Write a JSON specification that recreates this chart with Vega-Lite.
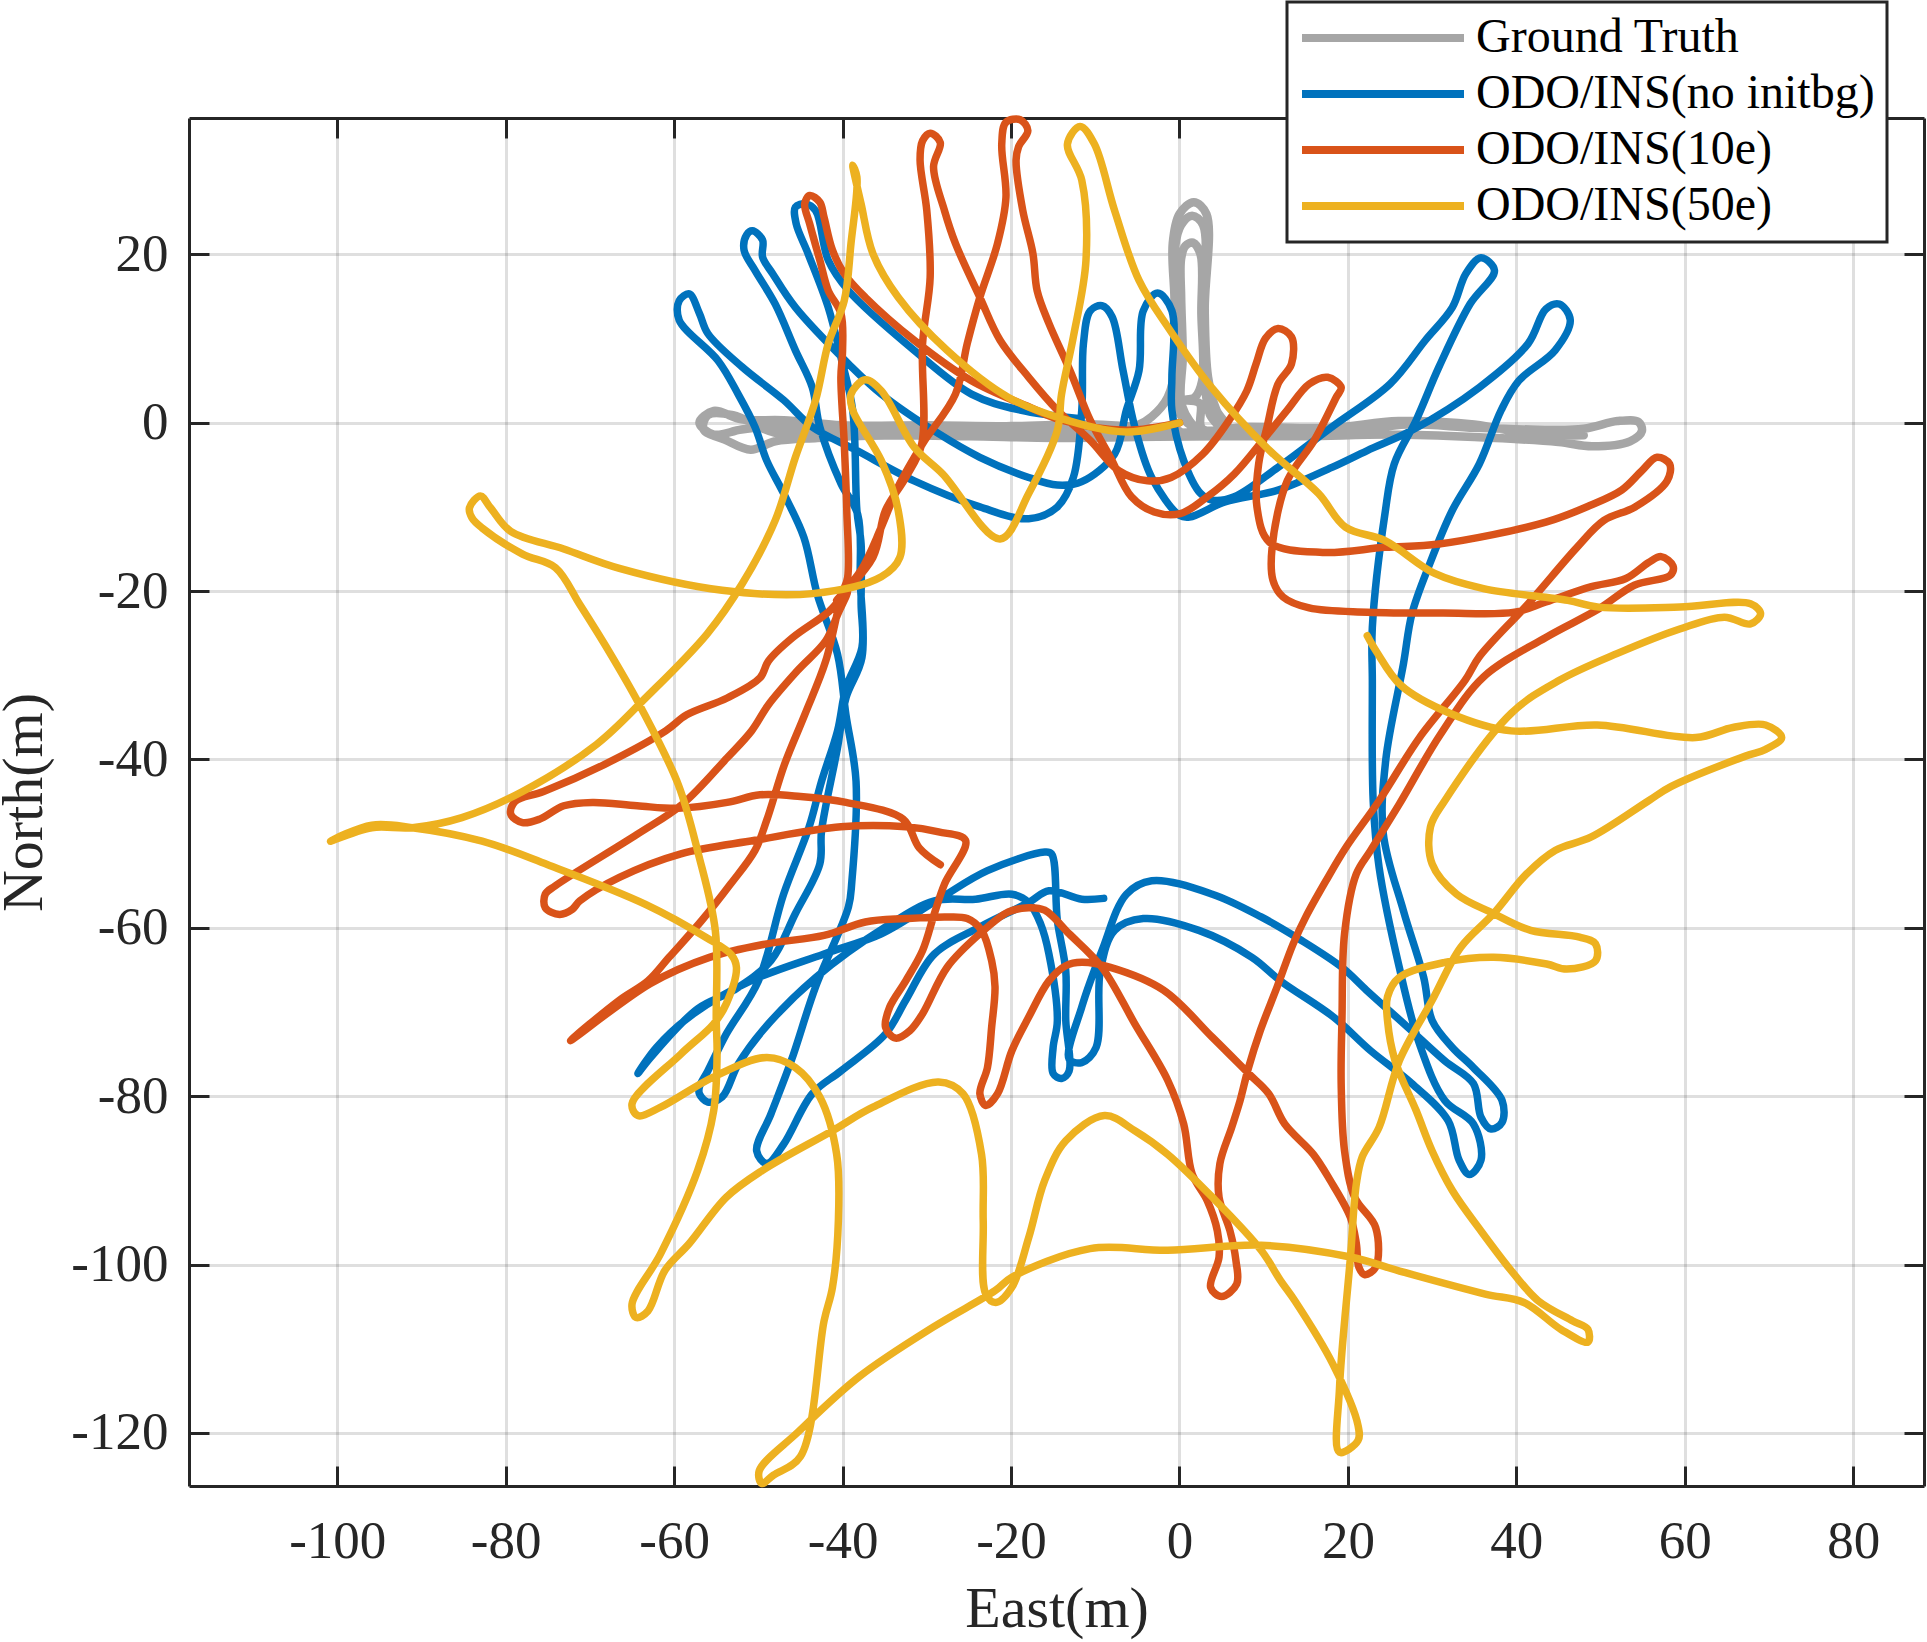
{
"$schema":"https://vega.github.io/schema/vega-lite/v6.json",
"autosize":"none",
"padding":{"left":189,"top":118,"right":2,"bottom":156},
"width":1735,
"height":1368,
"background":"white",
"datasets":{
"truth":[
{"x":0,"y":-1},{"x":-10,"y":-0.2},{"x":-20,"y":-0.4},{"x":-30,"y":-0.3},{"x":-40,"y":-0.3},{"x":-47,"y":0.3},{"x":-52,"y":0.4},{"x":-55.3,"y":1.4},{"x":-57,"y":0},{"x":-55.3,"y":-1.4},{"x":-52,"y":-0.8},{"x":-48,"y":-0.5},{"x":-40,"y":-0.9},{"x":-30,"y":-1},{"x":-20,"y":-0.9},{"x":-10,"y":-1.2},{"x":0,"y":-1.2},{"x":10,"y":-0.9},{"x":20,"y":-1},{"x":27,"y":-0.2},{"x":35,"y":-0.6},{"x":42,"y":-0.8},{"x":48,"y":-0.7},{"x":52,"y":0.2},{"x":54.5,"y":0.1},{"x":54.9,"y":-1},{"x":53.5,"y":-2.2},{"x":49,"y":-2.8},{"x":45,"y":-2.3},{"x":35,"y":-1.7},{"x":25,"y":-1.4},{"x":15,"y":-1.6},{"x":5,"y":-1.6},{"x":-5,"y":-1.7},{"x":-15,"y":-1.8},{"x":-25,"y":-1.6},{"x":-35,"y":-1.5},{"x":-43,"y":-1.8},{"x":-48,"y":-2.2},{"x":-50.9,"y":-3.2},{"x":-54,"y":-2},{"x":-56.5,"y":-0.8},{"x":-56,"y":0.9},{"x":-53,"y":0.9},{"x":-48,"y":-1.2},{"x":-40,"y":-1.4},{"x":-30,"y":-1.5},{"x":-20,"y":-1.3},{"x":-10,"y":-0.8},{"x":-5,"y":-0.3},{"x":-3.3,"y":0.7},{"x":-1.4,"y":3},{"x":-0.4,"y":7.4},{"x":-0.6,"y":15},{"x":-0.8,"y":21.3},{"x":0,"y":24.8},{"x":1.7,"y":26.2},{"x":3.2,"y":24.8},{"x":3,"y":13.3},{"x":3.4,"y":5.4},{"x":4.4,"y":1.5},{"x":5.9,"y":-0.9},{"x":2.5,"y":-1},{"x":-0.2,"y":1.5},{"x":-0.2,"y":8},{"x":-0.4,"y":15},{"x":-0.5,"y":21},{"x":0.2,"y":23.5},{"x":1.5,"y":24.6},{"x":2.8,"y":23.5},{"x":2.8,"y":13},{"x":3,"y":5},{"x":3.6,"y":1},{"x":5,"y":-1},{"x":2.5,"y":-1},{"x":0.3,"y":2},{"x":0.4,"y":8},{"x":0.2,"y":15},{"x":0.2,"y":19.5},{"x":0.7,"y":21},{"x":1.6,"y":21.4},{"x":2.5,"y":20},{"x":2.6,"y":13},{"x":2.7,"y":5},{"x":1.8,"y":3},{"x":0.5,"y":2.7},{"x":2.4,"y":2.3},{"x":2.7,"y":-0.7},{"x":8,"y":-0.5},{"x":18,"y":-0.6},{"x":26,"y":0.2},{"x":35,"y":-0.2},{"x":42,"y":-1.4},{"x":48,"y":-1.5}
],
"noinit":[
{"x":-12,"y":0.5},{"x":-18.9,"y":1.5},{"x":-24.7,"y":3.4},{"x":-31.5,"y":8.6},{"x":-39.3,"y":15.7},{"x":-41.7,"y":19.3},{"x":-43.2,"y":25.2},{"x":-44.4,"y":26},{"x":-45.6,"y":25.6},{"x":-45.5,"y":23.6},{"x":-44.1,"y":20.1},{"x":-41.7,"y":13.7},{"x":-40.2,"y":7.8},{"x":-38.8,"y":1.5},{"x":-38.3,"y":-10.4},{"x":-37.8,"y":-14.4},{"x":-37.8,"y":-21.5},{"x":-37.7,"y":-26.7},{"x":-39.6,"y":-31.5},{"x":-40.6,"y":-36.6},{"x":-42.5,"y":-42.6},{"x":-44,"y":-48.1},{"x":-47,"y":-56},{"x":-50,"y":-66.3},{"x":-53.8,"y":-72.6},{"x":-56,"y":-77},{"x":-57,"y":-78.9},{"x":-57,"y":-79.7},{"x":-56,"y":-80.7},{"x":-54.3,"y":-80.1},{"x":-52.4,"y":-76.2},{"x":-49.5,"y":-72.2},{"x":-43.2,"y":-65.9},{"x":-34.9,"y":-59.9},{"x":-29.1,"y":-56.8},{"x":-24.2,"y":-56.6},{"x":-19.9,"y":-56},{"x":-17.9,"y":-57},{"x":-16.5,"y":-59.5},{"x":-15.5,"y":-63.1},{"x":-14.5,"y":-71},{"x":-15,"y":-74.2},{"x":-15,"y":-77.3},{"x":-14,"y":-77.9},{"x":-13.1,"y":-77},{"x":-13.5,"y":-71},{"x":-13.5,"y":-65.1},{"x":-14.5,"y":-59.1},{"x":-15.2,"y":-51.2},{"x":-16,"y":-51},{"x":-22.8,"y":-53.2},{"x":-28.6,"y":-56.6},{"x":-35.4,"y":-60.7},{"x":-42.2,"y":-63.1},{"x":-50.9,"y":-66.3},{"x":-57.7,"y":-70.2},{"x":-62.1,"y":-74.2},{"x":-64.3,"y":-77.3},{"x":-62.8,"y":-75.4},{"x":-57.2,"y":-69.6},{"x":-52.9,"y":-67.4},{"x":-48.5,"y":-63.9},{"x":-45.6,"y":-58.3},{"x":-42.7,"y":-52.4},{"x":-42.5,"y":-48.5},{"x":-40.6,"y":-38.6},{"x":-39.6,"y":-32.7},{"x":-37.7,"y":-27.9},{"x":-37.9,"y":-18.8},{"x":-38.2,"y":-10.9},{"x":-40.2,"y":-7.2},{"x":-42.7,"y":-0.5},{"x":-43.6,"y":4.2},{"x":-45.6,"y":8.6},{"x":-48,"y":14.1},{"x":-50.4,"y":18.1},{"x":-51.7,"y":20.5},{"x":-51.4,"y":22.3},{"x":-50.7,"y":22.8},{"x":-49.5,"y":21.7},{"x":-49.5,"y":19.7},{"x":-48.3,"y":17.7},{"x":-45.6,"y":13.7},{"x":-39.3,"y":7},{"x":-35.4,"y":3.4},{"x":-28.6,"y":-1.3},{"x":-23.7,"y":-4.1},{"x":-17.9,"y":-6.5},{"x":-14.5,"y":-7.4},{"x":-11.6,"y":-7},{"x":-7.7,"y":-3.7},{"x":-6.3,"y":1.5},{"x":-4.8,"y":6.2},{"x":-4.3,"y":13.3},{"x":-2.6,"y":15.4},{"x":-0.9,"y":13.3},{"x":-0.9,"y":5.4},{"x":-0.9,"y":1.5},{"x":0.5,"y":-4.5},{"x":2.5,"y":-8.4},{"x":3.9,"y":-9.2},{"x":6.5,"y":-8.8},{"x":11.7,"y":-5.3},{"x":18.1,"y":-0.5},{"x":25,"y":4.6},{"x":29.2,"y":9.8},{"x":32.4,"y":13.7},{"x":34,"y":17.7},{"x":35.8,"y":19.6},{"x":37.4,"y":18.1},{"x":34.5,"y":14.1},{"x":30.8,"y":6.6},{"x":28.1,"y":0.3},{"x":25.5,"y":-4.9},{"x":24.4,"y":-10.8},{"x":22.9,"y":-24.3},{"x":22.9,"y":-30.6},{"x":23,"y":-44.9},{"x":23.7,"y":-52.8},{"x":26.1,"y":-64.7},{"x":28.5,"y":-73.8},{"x":31.5,"y":-80.5},{"x":34.9,"y":-83.3},{"x":35.8,"y":-87.6},{"x":34.4,"y":-89.3},{"x":33.2,"y":-87.6},{"x":31.9,"y":-82.9},{"x":27.6,"y":-78.5},{"x":22.7,"y":-74.6},{"x":18.3,"y":-70.6},{"x":12,"y":-66.3},{"x":8.6,"y":-63.5},{"x":2.3,"y":-60.3},{"x":-4.3,"y":-58.9},{"x":-7.7,"y":-60.3},{"x":-9.4,"y":-65.1},{"x":-9.9,"y":-74.2},{"x":-11.6,"y":-76},{"x":-13.1,"y":-75.6},{"x":-11.6,"y":-69.4},{"x":-9.2,"y":-62.7},{"x":-6.3,"y":-56},{"x":-3.3,"y":-54.4},{"x":3.9,"y":-56},{"x":9.7,"y":-58.7},{"x":14.5,"y":-61.5},{"x":19.3,"y":-64.7},{"x":22.2,"y":-67.4},{"x":27.1,"y":-71.8},{"x":31.5,"y":-75.8},{"x":34.9,"y":-78.5},{"x":35.8,"y":-82.5},{"x":37,"y":-83.9},{"x":38.3,"y":-83.1},{"x":38.3,"y":-80.5},{"x":34.9,"y":-76.6},{"x":32.4,"y":-74.2},{"x":30,"y":-71},{"x":29,"y":-65.9},{"x":26.6,"y":-58},{"x":24.2,"y":-48.8},{"x":24.5,"y":-40},{"x":26.6,"y":-28.6},{"x":27.6,"y":-22.7},{"x":29.7,"y":-16.8},{"x":32.4,"y":-10.4},{"x":35.6,"y":-4.9},{"x":38.2,"y":1.5},{"x":40.3,"y":5},{"x":44.6,"y":8.6},{"x":46.4,"y":12.2},{"x":45.1,"y":14.1},{"x":43.5,"y":13.5},{"x":41.4,"y":9.4},{"x":35.6,"y":4.2},{"x":27.6,"y":-0.9},{"x":22.3,"y":-3.3},{"x":18.1,"y":-5.3},{"x":11.7,"y":-8},{"x":5.4,"y":-9.4},{"x":1.2,"y":-11.2},{"x":0,"y":-11},{"x":-3.3,"y":-6.5},{"x":-5.3,"y":-0.5},{"x":-6.7,"y":6.2},{"x":-8,"y":12.6},{"x":-9.2,"y":13.9},{"x":-10.6,"y":13.3},{"x":-11.4,"y":9.4},{"x":-11.6,"y":1.5},{"x":-12.6,"y":-6.5},{"x":-14.5,"y":-10},{"x":-17.9,"y":-11.4},{"x":-23.7,"y":-10},{"x":-31.5,"y":-6.9},{"x":-38.3,"y":-3.3},{"x":-43.6,"y":-0.5},{"x":-47,"y":2.7},{"x":-51.9,"y":6.6},{"x":-56,"y":10.6},{"x":-57,"y":13},{"x":-58.2,"y":15.3},{"x":-59.4,"y":14.5},{"x":-59.4,"y":12.2},{"x":-54.8,"y":7.4},{"x":-52.4,"y":3.4},{"x":-50.4,"y":-0.5},{"x":-49,"y":-4.5},{"x":-47,"y":-8.4},{"x":-44.6,"y":-13.6},{"x":-43,"y":-20.4},{"x":-40.6,"y":-27.5},{"x":-39.6,"y":-34.7},{"x":-38.4,"y":-42.6},{"x":-38.9,"y":-54.5},{"x":-39.3,"y":-57.5},{"x":-43.2,"y":-67},{"x":-46.1,"y":-75.8},{"x":-48.5,"y":-82.1},{"x":-50.2,"y":-86.5},{"x":-49,"y":-88},{"x":-47,"y":-85.7},{"x":-43.6,"y":-79.7},{"x":-40.2,"y":-77},{"x":-34.9,"y":-72.6},{"x":-32.5,"y":-68.6},{"x":-29.1,"y":-63.1},{"x":-23.7,"y":-59.9},{"x":-17.9,"y":-57},{"x":-15.5,"y":-55.6},{"x":-11.6,"y":-56.6},{"x":-9,"y":-56.5}
],
"e10":[
{"x":0,"y":0},{"x":-6.3,"y":-0.9},{"x":-14,"y":0.3},{"x":-17.9,"y":1.9},{"x":-24.7,"y":5},{"x":-31.5,"y":9.8},{"x":-37.3,"y":14.9},{"x":-39.8,"y":17.7},{"x":-41.2,"y":20.5},{"x":-42.2,"y":24.4},{"x":-42.7,"y":26.2},{"x":-43.9,"y":27},{"x":-44.5,"y":26},{"x":-43.9,"y":23.6},{"x":-42.7,"y":19.3},{"x":-41.7,"y":15.7},{"x":-40.2,"y":13},{"x":-40,"y":8.6},{"x":-40.2,"y":5.4},{"x":-39.8,"y":-2.5},{"x":-39.5,"y":-10.4},{"x":-39.4,"y":-18.4},{"x":-40.1,"y":-20.4},{"x":-42,"y":-28.3},{"x":-44.5,"y":-34.7},{"x":-46.9,"y":-40.6},{"x":-49,"y":-47.2},{"x":-50.4,"y":-50.8},{"x":-53.3,"y":-54.8},{"x":-56.7,"y":-59.1},{"x":-60.6,"y":-63.5},{"x":-63.1,"y":-66.3},{"x":-66.5,"y":-68.6},{"x":-72.3,"y":-73.4},{"x":-62.8,"y":-66.6},{"x":-55.8,"y":-63.5},{"x":-49,"y":-61.9},{"x":-42.2,"y":-60.9},{"x":-37.3,"y":-59.3},{"x":-32.5,"y":-58.9},{"x":-27.6,"y":-58.7},{"x":-25.2,"y":-58.9},{"x":-23.5,"y":-60.3},{"x":-22.3,"y":-63.9},{"x":-21.9,"y":-67},{"x":-22.3,"y":-71.8},{"x":-22.8,"y":-76.6},{"x":-23.7,"y":-79.7},{"x":-23,"y":-81.1},{"x":-21.6,"y":-79.7},{"x":-19.9,"y":-74.6},{"x":-17.9,"y":-70.6},{"x":-15.5,"y":-66.3},{"x":-13.5,"y":-64.5},{"x":-11.6,"y":-64.1},{"x":-8.2,"y":-64.7},{"x":-1.9,"y":-67.4},{"x":3.9,"y":-73},{"x":8.2,"y":-77.3},{"x":10.6,"y":-79.7},{"x":12.5,"y":-83.3},{"x":15.9,"y":-86.9},{"x":17.9,"y":-90},{"x":20.3,"y":-94.4},{"x":21,"y":-97.5},{"x":21.3,"y":-100.3},{"x":22,"y":-101.2},{"x":23.3,"y":-100.3},{"x":23.3,"y":-95.6},{"x":20.8,"y":-92},{"x":19.6,"y":-86.5},{"x":19.2,"y":-78.5},{"x":19.3,"y":-70.6},{"x":19.6,"y":-60.7},{"x":21,"y":-53.6},{"x":22.7,"y":-50.8},{"x":26.1,"y":-45.3},{"x":31,"y":-37},{"x":36.1,"y":-30.2},{"x":43.5,"y":-25.5},{"x":49.8,"y":-22.1},{"x":54,"y":-19.3},{"x":58.3,"y":-18.1},{"x":58.6,"y":-17},{"x":57.2,"y":-15.9},{"x":55.7,"y":-16.6},{"x":53,"y":-18.5},{"x":48.8,"y":-19.5},{"x":43.5,"y":-21.3},{"x":39.8,"y":-22.5},{"x":31.3,"y":-22.6},{"x":22.3,"y":-22.5},{"x":15.4,"y":-22},{"x":12.3,"y":-20.7},{"x":11.1,"y":-18.7},{"x":11,"y":-14.8},{"x":12.8,"y":-6.9},{"x":16,"y":-2.1},{"x":18.6,"y":3},{"x":19.2,"y":4.2},{"x":17.6,"y":5.4},{"x":15.4,"y":4.6},{"x":12.8,"y":1.5},{"x":10.2,"y":-1.7},{"x":6.5,"y":-6.1},{"x":3.3,"y":-8.8},{"x":0.1,"y":-10.8},{"x":-3,"y":-10.6},{"x":-5.7,"y":-8.8},{"x":-8.2,"y":-4.1},{"x":-10.6,"y":0.3},{"x":-13,"y":6.2},{"x":-15.5,"y":11.8},{"x":-16.9,"y":15.7},{"x":-17.4,"y":20.1},{"x":-18.6,"y":25.2},{"x":-19.4,"y":31.2},{"x":-19.1,"y":32.8},{"x":-18,"y":34.7},{"x":-18.9,"y":36},{"x":-20.6,"y":35.7},{"x":-21.1,"y":33.1},{"x":-20.6,"y":26.8},{"x":-21.6,"y":21.3},{"x":-23.7,"y":14.9},{"x":-25.2,"y":9.4},{"x":-26.6,"y":3.4},{"x":-30.5,"y":-2.5},{"x":-33.4,"y":-7.6},{"x":-35.4,"y":-12.4},{"x":-37.8,"y":-17.5},{"x":-40.7,"y":-21.1},{"x":-36.4,"y":-16},{"x":-34.9,"y":-10.4},{"x":-32.5,"y":-6.5},{"x":-30.6,"y":-2.5},{"x":-30.5,"y":9.4},{"x":-29.6,"y":17.3},{"x":-30,"y":25.2},{"x":-30.8,"y":31.2},{"x":-30.5,"y":33.5},{"x":-29.6,"y":34.4},{"x":-28.4,"y":33.3},{"x":-29.2,"y":30.4},{"x":-27.9,"y":25.2},{"x":-26.6,"y":21.3},{"x":-23.7,"y":14.9},{"x":-21.3,"y":9.8},{"x":-17.9,"y":5.4},{"x":-14.5,"y":1.5},{"x":-10.6,"y":-2.1},{"x":-7.2,"y":-5.7},{"x":-3.8,"y":-6.9},{"x":-1,"y":-6.5},{"x":2.8,"y":-3.7},{"x":5.9,"y":0.3},{"x":8,"y":3.8},{"x":9.1,"y":7},{"x":10.2,"y":10},{"x":11.7,"y":11.2},{"x":13.3,"y":10.2},{"x":13.3,"y":7},{"x":11.7,"y":4.6},{"x":10.4,"y":-0.5},{"x":9.4,"y":-4.9},{"x":9.2,"y":-10},{"x":10.7,"y":-14.2},{"x":17,"y":-15.4},{"x":24.4,"y":-14.8},{"x":30.8,"y":-14.4},{"x":43.5,"y":-11.8},{"x":48.8,"y":-9.8},{"x":52.5,"y":-8},{"x":54.9,"y":-5.7},{"x":56.7,"y":-4.1},{"x":58.2,"y":-4.9},{"x":57.9,"y":-6.9},{"x":54.1,"y":-10},{"x":50.4,"y":-11.6},{"x":47.2,"y":-14.8},{"x":41.4,"y":-21.5},{"x":35.6,"y":-27.8},{"x":33.9,"y":-30.6},{"x":28.5,"y":-37.4},{"x":23.7,"y":-44.9},{"x":19.8,"y":-50.4},{"x":17.4,"y":-54.4},{"x":15,"y":-58.7},{"x":13.5,"y":-61.9},{"x":11.6,"y":-67},{"x":9.6,"y":-72.2},{"x":8.2,"y":-76.6},{"x":7.2,"y":-80.5},{"x":6.2,"y":-83.7},{"x":4.8,"y":-88},{"x":4.7,"y":-92},{"x":6,"y":-96},{"x":6.7,"y":-99.5},{"x":6.8,"y":-102.3},{"x":5,"y":-103.8},{"x":3.7,"y":-102.7},{"x":4.7,"y":-99.1},{"x":4.5,"y":-96},{"x":3.3,"y":-92.4},{"x":1.5,"y":-89.2},{"x":0.5,"y":-83.3},{"x":-1.4,"y":-78.1},{"x":-5.3,"y":-71.4},{"x":-9.2,"y":-64.7},{"x":-13.1,"y":-60.7},{"x":-16,"y":-57.9},{"x":-17.9,"y":-57.6},{"x":-20.3,"y":-58.1},{"x":-23.7,"y":-60.7},{"x":-27.6,"y":-64.7},{"x":-30.5,"y":-70.2},{"x":-32,"y":-72.2},{"x":-33.7,"y":-73.1},{"x":-34.9,"y":-71.8},{"x":-34.4,"y":-69.4},{"x":-32.5,"y":-66.3},{"x":-30.5,"y":-62.7},{"x":-29.1,"y":-58.3},{"x":-27.9,"y":-54.8},{"x":-25.4,"y":-49.6},{"x":-28.6,"y":-48.6},{"x":-32.5,"y":-48},{"x":-40.2,"y":-48},{"x":-50.4,"y":-49.6},{"x":-59.2,"y":-51.2},{"x":-66.5,"y":-54},{"x":-71.2,"y":-56.8},{"x":-72.1,"y":-57.8},{"x":-73.6,"y":-58.4},{"x":-75.3,"y":-57.6},{"x":-75.3,"y":-56},{"x":-74.1,"y":-55},{"x":-64.4,"y":-48.9},{"x":-59,"y":-45.3},{"x":-53.7,"y":-39.8},{"x":-50.8,"y":-36.6},{"x":-48.8,"y":-33.5},{"x":-45.4,"y":-29.5},{"x":-42,"y":-25.9},{"x":-40.6,"y":-22.8},{"x":-39.4,"y":-20},{"x":-41.6,"y":-22.4},{"x":-45.9,"y":-25.5},{"x":-48.8,"y":-28.3},{"x":-49.8,"y":-30.3},{"x":-53.7,"y":-32.7},{"x":-58.5,"y":-34.7},{"x":-61,"y":-36.6},{"x":-68.3,"y":-40.6},{"x":-75.5,"y":-43.8},{"x":-78.9,"y":-45},{"x":-79.4,"y":-46.5},{"x":-78,"y":-47.5},{"x":-76,"y":-47.1},{"x":-73.1,"y":-45.5},{"x":-69.7,"y":-45.1},{"x":-64.4,"y":-45.5},{"x":-59.5,"y":-45.8},{"x":-53.7,"y":-45.1},{"x":-49.8,"y":-44.2},{"x":-45,"y":-44.4},{"x":-39.6,"y":-45.1},{"x":-32.8,"y":-47.1},{"x":-30.9,"y":-50.5},{"x":-28.4,"y":-52.5}
],
"e50":[
{"x":0,"y":0},{"x":-6.3,"y":-1.1},{"x":-14,"y":0.5},{"x":-20.3,"y":3},{"x":-27.6,"y":8.6},{"x":-33.4,"y":14.9},{"x":-36.4,"y":20.1},{"x":-37.8,"y":26},{"x":-38.8,"y":30.6},{"x":-38.3,"y":29.2},{"x":-39,"y":21.3},{"x":-39.8,"y":14.5},{"x":-41.7,"y":9.4},{"x":-43.2,"y":2.7},{"x":-45.6,"y":-4.1},{"x":-48,"y":-11.6},{"x":-51.9,"y":-19.1},{"x":-56.1,"y":-25.1},{"x":-63.4,"y":-32.7},{"x":-69.2,"y":-38.2},{"x":-78,"y":-43.8},{"x":-85.2,"y":-46.9},{"x":-91.1,"y":-48.1},{"x":-95.9,"y":-48.1},{"x":-100.8,"y":-49.7},{"x":-95.9,"y":-47.8},{"x":-91.1,"y":-48.1},{"x":-82.8,"y":-49.7},{"x":-75,"y":-52.5},{"x":-63.4,"y":-57.2},{"x":-56.1,"y":-61.2},{"x":-53.2,"y":-63.2},{"x":-52.6,"y":-64.7},{"x":-53.8,"y":-69},{"x":-55.3,"y":-71.4},{"x":-59.2,"y":-75},{"x":-65,"y":-80.9},{"x":-64.3,"y":-82.3},{"x":-61.6,"y":-81.3},{"x":-55.3,"y":-77.7},{"x":-49,"y":-75.4},{"x":-45.6,"y":-76.6},{"x":-42.7,"y":-80.1},{"x":-40.7,"y":-86.9},{"x":-40.5,"y":-94.8},{"x":-41.2,"y":-102.7},{"x":-42.2,"y":-106.7},{"x":-45,"y":-122.8},{"x":-48.2,"y":-125},{"x":-49.6,"y":-126},{"x":-49.9,"y":-124.5},{"x":-45.3,"y":-119.9},{"x":-38,"y":-113.3},{"x":-29.2,"y":-107.4},{"x":-21.9,"y":-103.1},{"x":-19.9,"y":-101.5},{"x":-10.6,"y":-98.1},{"x":-1.4,"y":-98.3},{"x":9.7,"y":-97.7},{"x":20.3,"y":-99.1},{"x":26.6,"y":-100.9},{"x":36.3,"y":-103.5},{"x":40.9,"y":-104.5},{"x":45.3,"y":-107.7},{"x":48.5,"y":-109.2},{"x":48.5,"y":-107.7},{"x":46.7,"y":-106.7},{"x":42.6,"y":-104.3},{"x":39.7,"y":-101.1},{"x":35.8,"y":-96},{"x":32.4,"y":-91.2},{"x":30,"y":-86.5},{"x":28.1,"y":-81.7},{"x":25.6,"y":-75.8},{"x":24.7,"y":-71},{"x":24.7,"y":-68.2},{"x":26.1,"y":-65.9},{"x":31.5,"y":-64.1},{"x":37.3,"y":-63.5},{"x":43.6,"y":-64.3},{"x":46,"y":-64.9},{"x":49.4,"y":-63.9},{"x":49.4,"y":-61.9},{"x":47.5,"y":-61.1},{"x":41.7,"y":-60.3},{"x":37.3,"y":-58.3},{"x":32.9,"y":-56},{"x":30,"y":-52.4},{"x":29.8,"y":-48},{"x":31.5,"y":-44.9},{"x":39.4,"y":-34.5},{"x":45.1,"y":-30.6},{"x":52,"y":-27.4},{"x":59.4,"y":-24.5},{"x":64.7,"y":-23.1},{"x":67.8,"y":-23.9},{"x":69,"y":-22.7},{"x":67.8,"y":-21.5},{"x":59.4,"y":-21.9},{"x":49.8,"y":-21.9},{"x":46.1,"y":-21.1},{"x":36.1,"y":-19.7},{"x":30.3,"y":-17.9},{"x":24.4,"y":-14},{"x":19.7,"y":-12.4},{"x":16.5,"y":-8.4},{"x":10.7,"y":-3.3},{"x":3.8,"y":4.2},{"x":-1.4,"y":11.4},{"x":-4.8,"y":16.9},{"x":-7.7,"y":25.2},{"x":-10.1,"y":33.1},{"x":-11.8,"y":35.2},{"x":-13.3,"y":33.1},{"x":-11.6,"y":28.8},{"x":-11.1,"y":19.3},{"x":-12.6,"y":10.2},{"x":-14,"y":3.4},{"x":-14.5,"y":-0.9},{"x":-17.9,"y":-8.4},{"x":-21.3,"y":-13.8},{"x":-28.1,"y":-6.1},{"x":-31.5,"y":-2.9},{"x":-35.4,"y":3.8},{"x":-37.3,"y":5.1},{"x":-39,"y":3.4},{"x":-38.8,"y":1.5},{"x":-35.4,"y":-4.5},{"x":-33.4,"y":-10.4},{"x":-33.2,"y":-16},{"x":-35.4,"y":-18.3},{"x":-43.6,"y":-20.3},{"x":-54.3,"y":-19.9},{"x":-66.5,"y":-17.3},{"x":-73.1,"y":-15},{"x":-79.4,"y":-12.9},{"x":-81.8,"y":-10.1},{"x":-83,"y":-8.7},{"x":-84.3,"y":-10.1},{"x":-84,"y":-11.3},{"x":-82.8,"y":-12.5},{"x":-78,"y":-15.6},{"x":-74.1,"y":-17.2},{"x":-71.2,"y":-21.6},{"x":-67.3,"y":-27.9},{"x":-63.9,"y":-33.9},{"x":-59.5,"y":-43},{"x":-57.1,"y":-51.3},{"x":-55.1,"y":-60.4},{"x":-55,"y":-71},{"x":-54.9,"y":-75},{"x":-55.3,"y":-81.7},{"x":-57.2,"y":-88.8},{"x":-61.6,"y":-98.7},{"x":-65,"y":-104.7},{"x":-64.5,"y":-106.3},{"x":-63.1,"y":-105.5},{"x":-61.1,"y":-100.7},{"x":-58.2,"y":-97.5},{"x":-53.8,"y":-92},{"x":-49.5,"y":-88.8},{"x":-41.2,"y":-84.1},{"x":-36.4,"y":-81.3},{"x":-28.6,"y":-78.3},{"x":-25.7,"y":-79.7},{"x":-23.5,"y":-86.9},{"x":-23.3,"y":-94.8},{"x":-23,"y":-103.5},{"x":-21.8,"y":-104.5},{"x":-19.9,"y":-102.7},{"x":-17.9,"y":-96.8},{"x":-16,"y":-90},{"x":-13.5,"y":-85.3},{"x":-8.9,"y":-82.3},{"x":-5.3,"y":-84.1},{"x":-1.4,"y":-86.9},{"x":3.9,"y":-92},{"x":9.7,"y":-98.3},{"x":12,"y":-101.9},{"x":13.7,"y":-104.3},{"x":18.2,"y":-111.8},{"x":21.2,"y":-119.1},{"x":21.2,"y":-120.9},{"x":19,"y":-122.3},{"x":19,"y":-114.7},{"x":20.3,"y":-99.1},{"x":21,"y":-90.4},{"x":21.7,"y":-87.2},{"x":23.7,"y":-83.7},{"x":26.1,"y":-75.8},{"x":30,"y":-68.6},{"x":33.4,"y":-62.3},{"x":37.3,"y":-58.3},{"x":41.2,"y":-53.6},{"x":44.6,"y":-50.8},{"x":48.9,"y":-49.2},{"x":55.7,"y":-44.9},{"x":58.4,"y":-43.2},{"x":67.2,"y":-39.6},{"x":69.6,"y":-38.8},{"x":71.5,"y":-37.4},{"x":69.6,"y":-35.9},{"x":65.7,"y":-36.2},{"x":61.3,"y":-37.4},{"x":49.6,"y":-35.9},{"x":39.4,"y":-36.6},{"x":32.1,"y":-34.5},{"x":26.3,"y":-31.2},{"x":23.4,"y":-27.2},{"x":22.3,"y":-25.3}
]
},
"layer":[
{"data":{"name":"truth"},
"mark":{"type":"line","interpolate":"catmull-rom","strokeWidth":8.5,"strokeJoin":"round","strokeCap":"round"},
"encoding":{
"x":{"field":"x","type":"quantitative","scale":{"domain":[-117.6,88.4],"nice":false,"zero":false},
"axis":{"orient":"bottom","values":[-100,-80,-60,-40,-20,0,20,40,60,80],"labelExpr":"replace(datum.label,'−','-')","title":"East(m)","grid":true,"titlePadding":12,"labelPadding":49}},
"y":{"field":"y","type":"quantitative","scale":{"domain":[-126.3,36.2],"nice":false,"zero":false},
"axis":{"orient":"left","values":[-120,-100,-80,-60,-40,-20,0,20],"labelExpr":"replace(datum.label,'−','-')","title":"North(m)","grid":true,"titlePadding":17,"labelPadding":41}},
"order":{"value":null},
"color":{"datum":"Ground Truth","title":null,"scale":{"domain":["Ground Truth","ODO/INS(no initbg)","ODO/INS(10e)","ODO/INS(50e)"],"range":["#a6a6a6","#0072bd","#d95319","#edb120"]}}}},
{"data":{"name":"noinit"},
"mark":{"type":"line","interpolate":"catmull-rom","strokeWidth":7.5,"strokeJoin":"round","strokeCap":"round"},
"encoding":{
"x":{"field":"x","type":"quantitative","axis":null},
"y":{"field":"y","type":"quantitative","axis":null},
"order":{"value":null},
"color":{"datum":"ODO/INS(no initbg)","title":null}}},
{"data":{"name":"e10"},
"mark":{"type":"line","interpolate":"catmull-rom","strokeWidth":7.5,"strokeJoin":"round","strokeCap":"round"},
"encoding":{
"x":{"field":"x","type":"quantitative","axis":null},
"y":{"field":"y","type":"quantitative","axis":null},
"order":{"value":null},
"color":{"datum":"ODO/INS(10e)","title":null}}},
{"data":{"name":"e50"},
"mark":{"type":"line","interpolate":"catmull-rom","strokeWidth":7.5,"strokeJoin":"round","strokeCap":"round"},
"encoding":{
"x":{"field":"x","type":"quantitative","axis":null},
"y":{"field":"y","type":"quantitative","axis":null},
"order":{"value":null},
"color":{"datum":"ODO/INS(50e)","title":null}}},
{"data":{"name":"truth"},
"mark":{"type":"line","opacity":0},
"encoding":{
"x":{"field":"x","type":"quantitative","axis":{"orient":"top","values":[-100,-80,-60,-40,-20,0,20,40,60,80],"labels":false,"title":null,"grid":false}},
"y":{"field":"y","type":"quantitative","axis":{"orient":"right","values":[-120,-100,-80,-60,-40,-20,0,20],"labels":false,"title":null,"grid":false}},
"order":{"value":null}}}
],
"resolve":{"axis":{"x":"independent","y":"independent"}},
"config":{
"view":{"stroke":null},
"font":"Liberation Serif",
"axis":{
"labelFont":"Liberation Serif","labelFontSize":53,"labelColor":"#262626",
"titleFont":"Liberation Serif","titleFontSize":58,"titleColor":"#262626","titleFontWeight":"normal",
"domainColor":"#262626","domainWidth":3,
"tickColor":"#262626","tickWidth":3,"tickSize":-20,
"gridColor":"#262626","gridOpacity":0.15,"gridWidth":3,
"labelFlush":false,"labelOverlap":false},
"legend":{
"orient":"none","legendX":1098,"legendY":-116,
"padding":12,"fillColor":"white","strokeColor":"#262626","strokeWidth":3,
"symbolType":"M-2.1,0H14.1","symbolSize":400,"symbolStrokeWidth":8,
"labelFont":"Liberation Serif","labelFontSize":48,"labelColor":"black","labelOffset":129,
"rowPadding":8,"labelLimit":500,"title":null}
}
}
